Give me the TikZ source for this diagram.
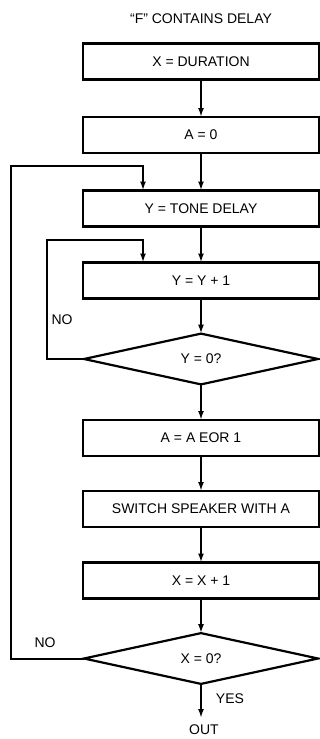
\documentclass[tikz,border=0pt]{standalone}
\usepackage{fontspec}
\setmainfont{Liberation Sans}
\usetikzlibrary{shapes.geometric,arrows.meta}
\begin{document}
\begin{tikzpicture}[x=1pt,y=-1pt,
  every node/.style={font=\fontsize{14}{16}\selectfont},
  box/.style={draw,line width=2.2pt,rectangle,minimum width=236pt,minimum height=36pt,inner sep=0pt,outer sep=0pt},
  dia/.style={draw,line width=2.2pt,diamond,minimum width=234pt,minimum height=48pt,inner sep=0pt,outer sep=0pt},
  arr/.style={line width=2pt,-{Latex[length=9pt,width=6pt]}},
  lbl/.style={inner sep=0pt}]
\useasboundingbox (0,0) rectangle (320,739);
\node[lbl] (title) at (201,19) {“F” CONTAINS DELAY};
\node[box] (b1) at (201,61.5) {X = DURATION};
\node[box] (b2) at (201,135) {A = 0};
\node[box] (b3) at (201,208.5) {Y = TONE DELAY};
\node[box] (b4) at (201,280.5) {Y = Y + 1};
\node[dia] (d1) at (201,359) {Y = 0?};
\node[box] (b5) at (201,438) {A = A EOR 1};
\node[box] (b6) at (201,509) {SWITCH SPEAKER WITH A};
\node[box] (b7) at (201,580.5) {X = X + 1};
\node[dia] (d2) at (201,658.5) {X = 0?};
\node[lbl] (out) at (204,730) {OUT};
\node[lbl] (no1) at (62,320) {NO};
\node[lbl] (no2) at (45,643) {NO};
\node[lbl] (yes) at (230,699) {YES};
\coordinate (ol) at (11,166);
\coordinate (ot) at (143,166);
\coordinate (il) at (47,240);
\coordinate (it) at (143,240);
\coordinate (oe) at (201,718);
\draw[arr] (b1) -- (b2);
\draw[arr] (b2) -- (b3);
\draw[arr] (b3) -- (b4);
\draw[arr] (b4) -- (d1);
\draw[arr] (d1) -- (b5);
\draw[arr] (b5) -- (b6);
\draw[arr] (b6) -- (b7);
\draw[arr] (b7) -- (d2);
\draw[arr] (d2.south) -- (oe);
\draw[arr] (d1.west) -| (il) -- (it) -- (it |- b4.north);
\draw[arr] (d2.west) -| (ol) -- (ot) -- (ot |- b3.north);
\end{tikzpicture}
\end{document}
